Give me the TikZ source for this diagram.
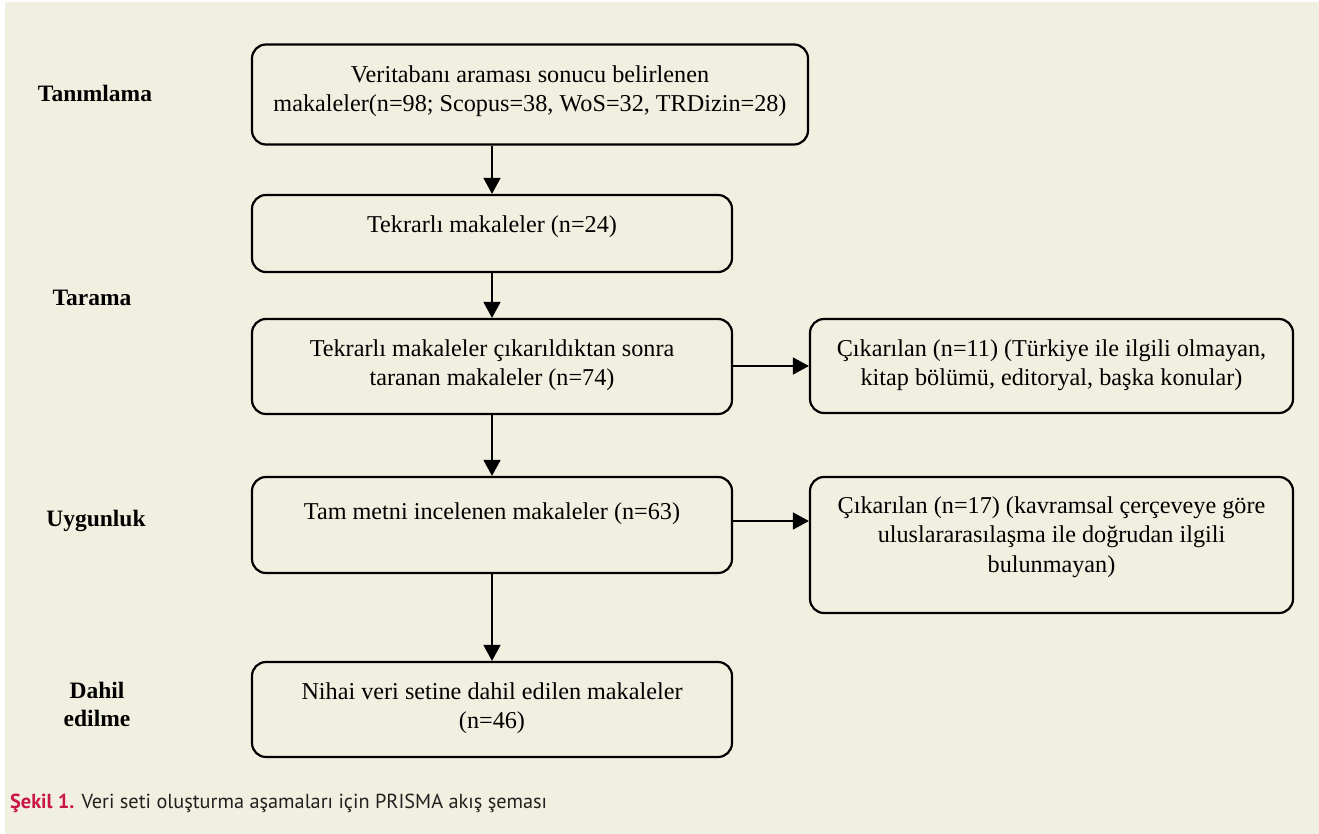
\documentclass[tikz,border=0pt]{standalone}
\usepackage{fontspec}
\setmainfont{Liberation Serif}
\newfontfamily\capfont{PT Sans}
\usetikzlibrary{arrows.meta,positioning,calc}
\definecolor{bgbeige}{RGB}{241,239,224}
\definecolor{capred}{RGB}{200,22,70}
\definecolor{captext}{RGB}{35,31,32}
\tikzset{
  flowbox/.style={draw=black, line width=2.2pt, rounded corners=14pt, inner sep=0pt},
  boxtext/.style={align=center, inner sep=0pt, font=\fontsize{24.2}{29.5}\selectfont},
  phase/.style={align=center, inner sep=0pt, font=\fontsize{23.5}{28}\selectfont\bfseries},
  flowarrow/.style={line width=1.5pt, -{Triangle[width=17pt,length=16pt]}}
}
\begin{document}
\begin{tikzpicture}[x=1pt,y=-1pt]
\useasboundingbox (0,0) rectangle (1319,834);
\fill[white] (0,0) rectangle (1319,834);
\fill[bgbeige] (5,2) rectangle (1319,834);

% boxes
\node[flowbox, minimum width=556pt, minimum height=100pt] (b1) at (530,94.5) {};
\node[flowbox, minimum width=480pt, minimum height=77pt] (b2) at (492,233.5) {};
\node[flowbox, minimum width=480pt, minimum height=95pt] (b3) at (492,366.5) {};
\node[flowbox, minimum width=480pt, minimum height=96pt] (b4) at (492,525) {};
\node[flowbox, minimum width=480pt, minimum height=95pt] (b5) at (492,709.5) {};
\node[flowbox, minimum width=483pt, minimum height=94pt] (ba) at (1051.5,366) {};
\node[flowbox, minimum width=483pt, minimum height=136pt] (bb) at (1051.5,545) {};

% texts
\node[boxtext] (t1) at (530,91) {Veritabanı araması sonucu belirlenen\\makaleler(n=98; Scopus=38, WoS=32, TRDizin=28)};
\node[boxtext] (t2) at (492,227) {Tekrarlı makaleler (n=24)};
\node[boxtext] (t3) at (492,365) {Tekrarlı makaleler çıkarıldıktan sonra\\taranan makaleler (n=74)};
\node[boxtext] (t4) at (492,514) {Tam metni incelenen makaleler (n=63)};
\node[boxtext] (t5) at (492,708) {Nihai veri setine dahil edilen makaleler\\(n=46)};
\node[boxtext] (ta) at (1051.5,365) {Çıkarılan (n=11) (Türkiye ile ilgili olmayan,\\kitap bölümü, editoryal, başka konular)};
\node[boxtext] (tb) at (1051.5,537) {Çıkarılan (n=17) (kavramsal çerçeveye göre\\uluslararasılaşma ile doğrudan ilgili\\bulunmayan)};

% phase labels
\node[phase] (p1) at (95,93) {Tanımlama};
\node[phase] (p2) at (92,298) {Tarama};
\node[phase] (p3) at (96,521) {Uygunluk};
\node[phase] (p4) at (97,704) {Dahil\\edilme};

% arrows
\draw[flowarrow] (b2.north |- b1.south) -- (b2.north);
\draw[flowarrow] (b2.south) -- (b3.north);
\draw[flowarrow] (b3.south) -- (b4.north);
\draw[flowarrow] (b4.south) -- (b5.north);
\draw[flowarrow] (b3.east |- ba.west) -- (ba.west);
\draw[flowarrow] (b4.east |- 0,521) coordinate (c4) -- (c4 -| bb.west);

% caption
\node[anchor=west, inner sep=0pt, font=\capfont\fontsize{20.3}{24}\selectfont, text=captext] (cap) at (10,803)
  {{\color{capred}\bfseries Şekil 1.} Veri seti oluşturma aşamaları için PRISMA akış şeması};
\end{tikzpicture}
\end{document}
